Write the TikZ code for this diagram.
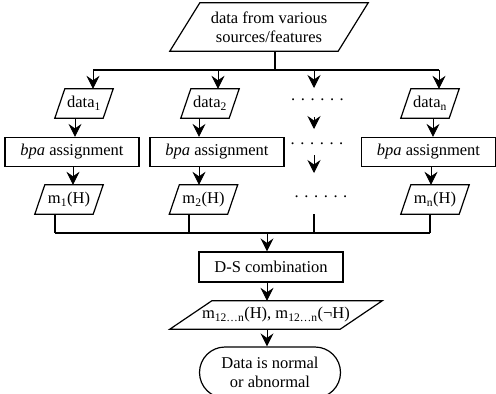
\documentclass[tikz,border=0pt]{standalone}
\usepackage{fontspec}
\setmainfont{Liberation Serif}
\usetikzlibrary{shapes.misc,arrows.meta}
\begin{document}
\begin{tikzpicture}[x=1pt,y=-1pt,
  font=\fontsize{16.5}{19}\selectfont,
  box/.style={draw,line width=1.2pt,rectangle,minimum width=134pt,minimum height=29pt,inner sep=2pt},
  parabox/.style={rectangle,inner sep=1pt,
    append after command={\pgfextra{\draw[line width=1.2pt,line join=miter]
      ([xshift=#1]\tikzlastnode.north west) -- (\tikzlastnode.north east)
      -- ([xshift=-#1]\tikzlastnode.south east) -- (\tikzlastnode.south west) -- cycle;}}},
  smallpara/.style={parabox=10pt,minimum height=29pt},
  dotrow/.style={inner sep=0pt},
  term/.style={draw,line width=1.2pt,rounded rectangle,minimum width=145pt,minimum height=51pt,align=center,inner sep=2pt},
  conn/.style={line width=1.1pt},
  arr/.style={line width=0.9pt,-{Stealth[length=13pt,width=13pt,inset=4.5pt]}}
]
\useasboundingbox[fill=white] (0,0) rectangle (496,394);

% top
\node[parabox=30pt,minimum width=198pt,minimum height=48pt,align=center] (T) at (269,27) {data from various\\sources/features};

% data row
\node[smallpara,minimum width=58pt] (D1) at (84,103.5) {data\textsubscript{1}};
\node[smallpara,minimum width=58pt] (D2) at (210,103.5) {data\textsubscript{2}};
\node[dotrow] (dot1) at (317.5,100) {.\hspace{5.6pt}.\hspace{5.6pt}.\hspace{5.6pt}.\hspace{5.6pt}.\hspace{5.6pt}.};
\node[smallpara,minimum width=58pt] (Dn) at (430,103.5) {data\textsubscript{n}};

% bpa row
\node[box] (B1) at (72,152) {\textit{bpa} assignment};
\node[box] (B2) at (217,152) {\textit{bpa} assignment};
\node[dotrow] (dot2) at (317,144) {.\hspace{5.6pt}.\hspace{5.6pt}.\hspace{5.6pt}.\hspace{5.6pt}.\hspace{5.6pt}.};
\node[box] (Bn) at (428.5,152) {\textit{bpa} assignment};

% m row
\node[smallpara,minimum width=68pt] (M1) at (69,199.5) {m\textsubscript{1}(H)};
\node[smallpara,minimum width=68pt] (M2) at (203.5,199.5) {m\textsubscript{2}(H)};
\node[dotrow] (dot3) at (321,197) {.\hspace{5.6pt}.\hspace{5.6pt}.\hspace{5.6pt}.\hspace{5.6pt}.\hspace{5.6pt}.};
\node[smallpara,minimum width=68pt] (Mn) at (435,199.5) {m\textsubscript{n}(H)};

% combination
\node[box,minimum width=144pt,minimum height=30pt] (DS) at (271,267) {D-S combination};
\node[parabox=42pt,minimum width=212pt,minimum height=28pt] (M12) at (276,315) {m\textsubscript{12…n}(H), m\textsubscript{12…n}(¬H)};
\node[term] (R) at (270,372.5) {Data is normal\\or abnormal};

% coordinates of junctions
\coordinate (j0) at (275,70);
\coordinate (a1) at (93,70);
\coordinate (a2) at (218,70);
\coordinate (a3) at (314,70);
\coordinate (an) at (439,70);
\coordinate (a3e) at (314,88);
\coordinate (c1) at (314,117);
\coordinate (c1e) at (314,129);
\coordinate (c2) at (314,155);
\coordinate (c2e) at (314,173);
\coordinate (c3) at (314,214);
\coordinate (l1) at (55,233);
\coordinate (l2) at (189,233);
\coordinate (l3) at (314,233);
\coordinate (ln) at (430,233);
\coordinate (j1) at (267,233);

% top split
\draw[conn] (T.south -| j0) -- (j0);
\draw[conn] (a1) -- (an);
\draw[arr] (a1) -- (a1 |- D1.north);
\draw[arr] (a2) -- (a2 |- D2.north);
\draw[arr] (a3) -- (a3e);
\draw[arr] (an) -- (an |- Dn.north);

% data -> bpa
\draw[arr] (D1.south -| 75,0) -- (B1.north -| 75,0);
\draw[arr] (D2.south -| 199,0) -- (B2.north -| 199,0);
\draw[arr] (c1) -- (c1e);
\draw[arr] (Dn.south -| 433,0) -- (Bn.north -| 433,0);

% bpa -> m
\draw[arr] (B1.south -| 73,0) -- (M1.north -| 73,0);
\draw[arr] (B2.south -| 199,0) -- (M2.north -| 199,0);
\draw[arr] (c2) -- (c2e);
\draw[arr] (Bn.south -| 431,0) -- (Mn.north -| 431,0);

% merge
\draw[conn] (M1.south -| l1) -- (l1);
\draw[conn] (M2.south -| l2) -- (l2);
\draw[conn] (c3) -- (l3);
\draw[conn] (Mn.south -| ln) -- (ln);
\draw[conn] (l1) -- (ln);
\draw[arr] (j1) -- (DS.north -| j1);
\draw[arr] (DS.south -| j1) -- (M12.north -| j1);
\draw[arr] (M12.south -| j1) -- (R.north -| j1);
\end{tikzpicture}
\end{document}
